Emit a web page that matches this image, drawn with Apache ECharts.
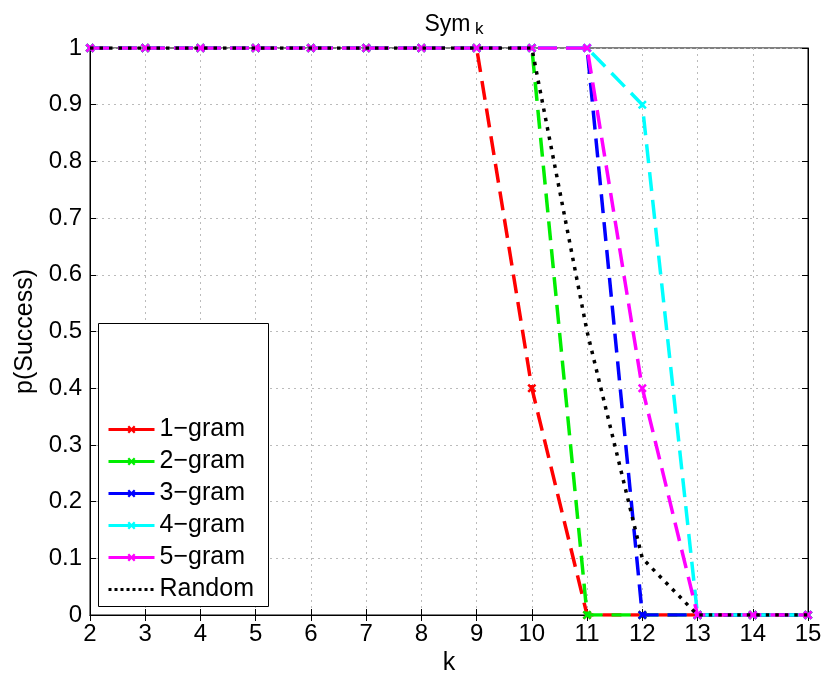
<!DOCTYPE html>
<html>
<head>
<meta charset="utf-8">
<script src="https://cdn.jsdelivr.net/npm/echarts@6/dist/echarts.min.js"></script>
<style>html,body{margin:0;padding:0;background:#fff}#c{width:825px;height:675px}</style>
</head>
<body>
<div id="c"></div>
<script>
const kValues = [2,3,4,5,6,7,8,9,10,11,12,13,14,15];
const gram1 = [1,1,1,1,1,1,1,1,0.4,0,0,0,0,0];
const gram2 = [1,1,1,1,1,1,1,1,1,0,0,0,0,0];
const gram3 = [1,1,1,1,1,1,1,1,1,1,0,0,0,0];
const gram4 = [1,1,1,1,1,1,1,1,1,1,0.9,0,0,0];
const gram5 = [1,1,1,1,1,1,1,1,1,1,0.4,0,0,0];
const randomVals = [1,1,1,1,1,1,1,1,1,0.5,0.1,0,0,0];
const seriesNames = ['1\u2212gram','2\u2212gram','3\u2212gram','4\u2212gram','5\u2212gram','Random'];
const yTicks = ['0','0.1','0.2','0.3','0.4','0.5','0.6','0.7','0.8','0.9','1'];

const colors = ['#ff0000','#00ee00','#0000ff','#00ffff','#ff00ff','#000000'];
const xMark = 'path://M2,0 L5,3 L8,0 L10,2 L7,5 L10,8 L8,10 L5,7 L2,10 L0,8 L3,5 L0,2 Z';
const allVals = [gram1,gram2,gram3,gram4,gram5,randomVals];
const FONT = 'Liberation Sans, Arial, sans-serif';

const series = allVals.map((vals,i)=>{
  const isRand = i===5;
  return {
    name: seriesNames[i],
    type: 'line',
    data: kValues.map((k,j)=>[k, vals[j]]),
    symbol: isRand ? 'none' : xMark,
    symbolSize: 9,
    showSymbol: !isRand,
    color: colors[i],
    itemStyle: {color: colors[i]},
    lineStyle: {color: colors[i], width: 3.5, type: isRand ? [3.5,6] : [19,9]},
    emphasis: {disabled: true},
    animation: false,
    z: 2 + i
  };
});

const legendData = seriesNames.map((n,i)=> i===5
  ? {name: n, itemStyle: {color: 'rgba(0,0,0,0)', opacity: 0, borderWidth: 0}, lineStyle: {type: [3,3], width: 3}}
  : {name: n});

const chart = echarts.init(document.getElementById('c'), null, {renderer:'canvas'});
chart.setOption({
  animation: false,
  backgroundColor: '#fff',
  title: {
    text: '{a|Sym}{b| k}',
    left: 449, top: 6, textAlign: 'center',
    textStyle: {
      rich: {
        a: {fontFamily: FONT, fontSize: 23, fontWeight: 'normal', color: '#000', lineHeight: 28},
        b: {fontFamily: FONT, fontSize: 17, fontWeight: 'normal', color: '#000', padding:[8,0,0,0], lineHeight: 28}
      }
    }
  },
  grid: {left: 90, right: 17, top: 48, bottom: 60, show: true, borderColor: '#000', borderWidth: 1,
         containLabel: false, outerBoundsMode: 'none'},
  xAxis: [{
    type: 'value', min: 2, max: 15, interval: 1,
    name: 'k', nameLocation: 'middle', nameGap: 32,
    nameTextStyle: {fontFamily: FONT, fontSize: 25, color: '#000'},
    axisLine: {show: true, lineStyle: {color: '#000', width: 1}},
    axisTick: {show: true, inside: true, length: 6, lineStyle: {color:'#000'}},
    axisLabel: {fontFamily: FONT, fontSize: 24, color: '#000', margin: 7},
    splitLine: {show: true, lineStyle: {color: '#bbb', type: [2,4], width: 1}}
  },{
    type: 'value', min: 2, max: 15, interval: 1, position: 'top',
    axisLine: {show: true, lineStyle: {color: '#000'}},
    axisTick: {show: true, inside: true, length: 6, lineStyle: {color:'#000'}},
    axisLabel: {show: false}, splitLine: {show: false}
  }],
  yAxis: [{
    type: 'value', min: 0, max: 1, interval: 0.1,
    name: 'p(Success)', nameLocation: 'middle', nameGap: 46, nameRotate: 90,
    nameTextStyle: {fontFamily: FONT, fontSize: 25, color: '#000'},
    axisLine: {show: true, lineStyle: {color: '#000', width: 1}},
    axisTick: {show: true, inside: true, length: 6, lineStyle: {color:'#000'}},
    axisLabel: {fontFamily: FONT, fontSize: 24, color: '#000', margin: 8,
      formatter: (v)=> yTicks[Math.round(v*10)]},
    splitLine: {show: true, lineStyle: {color: '#bbb', type: [2,4], width: 1}}
  },{
    type: 'value', min: 0, max: 1, interval: 0.1, position: 'right',
    axisLine: {show: true, lineStyle: {color: '#000'}},
    axisTick: {show: true, inside: true, length: 6, lineStyle: {color:'#000'}},
    axisLabel: {show: false}, splitLine: {show: false}
  }],
  legend: {
    orient: 'vertical', left: 102, top: 412, z: 6,
    itemWidth: 46, itemHeight: 10, itemGap: 7,
    data: legendData,
    lineStyle: {type: 'solid', width: 3},
    textStyle: {fontFamily: FONT, fontSize: 25, color: '#000'},
    selectedMode: false
  },
  graphic: [{
    type: 'rect', z: 5, left: 98, top: 323,
    shape: {width: 170, height: 283},
    style: {fill: '#fff', stroke: '#000', lineWidth: 1}
  }],
  series: series
});
</script>
</body>
</html>
